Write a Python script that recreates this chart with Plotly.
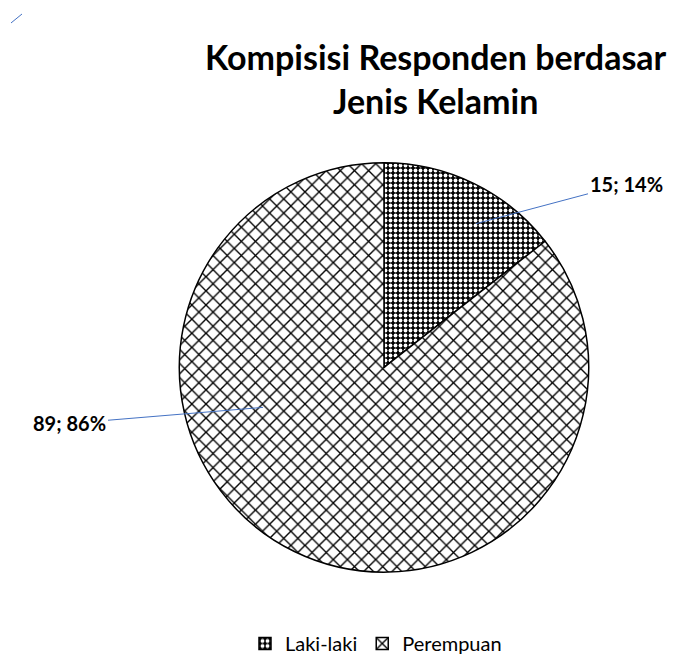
import plotly.graph_objects as go

labels = ["Laki-laki", "Perempuan"]
values = [15, 89]
percents = ["14%", "86%"]

W, H = 678, 655
OX, OY = 8, 6                      # page offset compensation
cx, cy, R = 384 - OX, 366 - OY, 205  # pixel geometry of pie

fig = go.Figure()
fig.add_trace(go.Pie(
    labels=labels, values=values, sort=False, direction="clockwise", rotation=0,
    textinfo="none", hoverinfo="label+value+percent",
    marker=dict(
        colors=["black", "white"],
        line=dict(color="black", width=1.5),
        pattern=dict(shape=[".", "x"], size=[5, 10], solidity=[0.45, 0.25],
                     fgcolor=["white", "black"], bgcolor=["black", "white"],
                     fillmode="replace"),
    ),
    domain=dict(x=[(cx - R) / W, (cx + R) / W], y=[(H - cy - R) / H, (H - cy + R) / H]),
))

# label placement (pixel offsets relative to pie center): tip point and text center
label_geo = [((92, -144), (242, -184)), ((-121, 40), (-314, 56))]
for (lab, v, p, (tip, txt)) in zip(labels, values, percents, label_geo):
    tx, ty = cx + tip[0], cy + tip[1]
    fig.add_annotation(
        x=tx / W, y=1 - ty / H, xref="paper", yref="paper",
        text=f"<b>{v}; {p}</b>", showarrow=True, arrowhead=0, arrowwidth=1,
        arrowcolor="#4472C4", ax=txt[0] - tip[0], ay=txt[1] - tip[1],
        font=dict(family="Lato", size=20, color="black"),
    )

# title
fig.add_annotation(
    x=(436 - OX) / W, y=1 - (77 - OY) / H, xref="paper", yref="paper",
    xanchor="center", yanchor="middle", showarrow=False,
    text="<b>Kompisisi Responden berdasar<br>Jenis Kelamin</b>",
    font=dict(family="Lato", size=34, color="black"),
)

fig.add_shape(type="line", xref="paper", yref="paper",
              x0=(11 - OX) / W, y0=1 - (21 - OY) / H, x1=(22 - OX) / W, y1=1 - (12 - OY) / H,
              line=dict(color="#4472C4", width=1))

fig.update_layout(
    width=W, height=H, margin=dict(l=0, r=0, t=0, b=0),
    paper_bgcolor="white", plot_bgcolor="white",
    legend=dict(orientation="h", x=(376 - OX) / W, xanchor="center", y=1 - (642 - OY) / H,
                yanchor="middle",
                font=dict(family="Lato", size=20, color="black"),
                itemwidth=30),
    showlegend=True,
)
fig.write_html("out.html")
